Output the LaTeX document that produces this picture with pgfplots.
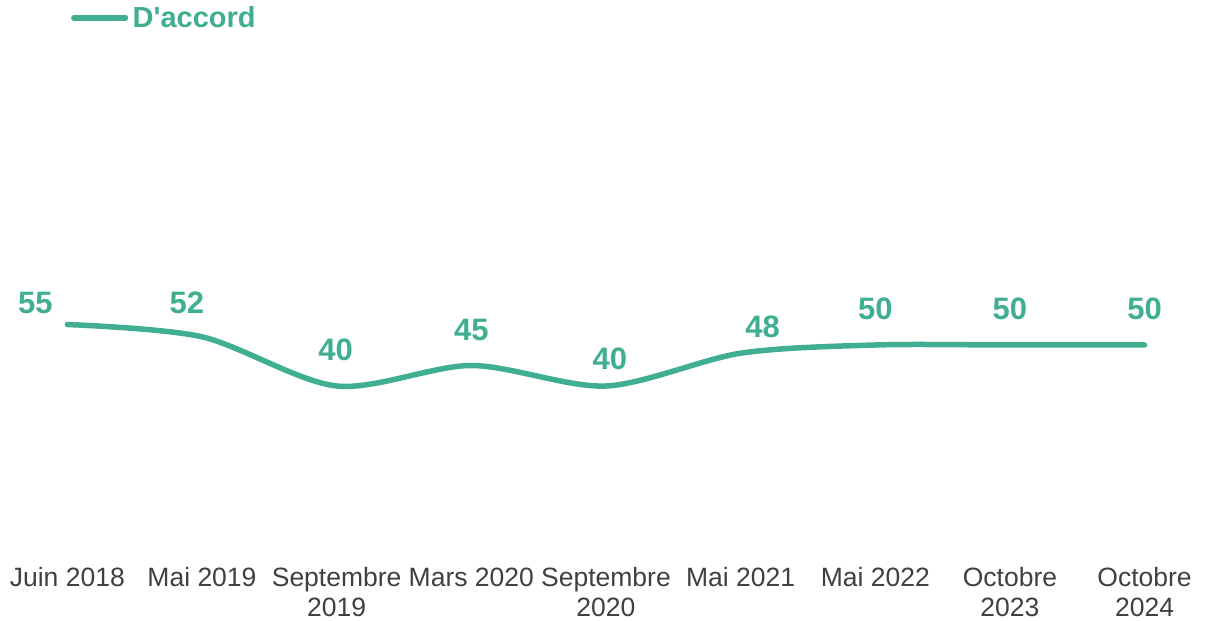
\documentclass[border=0pt]{standalone}
\usepackage{pgfplots}
\pgfplotsset{compat=1.18}
\usepackage{pgfplotstable}
\usepackage{fontspec}
\setmainfont{Liberation Sans}
\definecolor{teal1}{RGB}{64,174,145}
\definecolor{lab}{RGB}{64,64,64}
\pgfplotstableread{
x y dx dy
0 55 -32 21.5
1 52 -15 34
2 40 -1 36
3 45 0 35.5
4 40 4 27
5 48 22 26
6 50 0 36
7 50 0 36
8 50 0 36
}\datatable
\begin{document}
\begin{tikzpicture}
\path[use as bounding box] (0,0) rectangle (1221bp,621bp);
\begin{axis}[
  at={(0bp,71bp)}, anchor=south west,
  scale only axis, width=1212bp, height=410bp,
  xmin=-0.5, xmax=8.5, ymin=0, ymax=100,
  clip=false,
  hide y axis,
  axis x line*=bottom,
  x axis line style={draw=none},
  xtick={0,...,8},
  xticklabels={Juin 2018,Mai 2019,{Septembre\\2019},Mars 2020,{Septembre\\2020},Mai 2021,Mai 2022,{Octobre\\2023},{Octobre\\2024}},
  major tick length=0pt,
  xtick style={draw=none},
  xticklabel style={align=center, anchor=north, inner sep=0pt, yshift=-17.5bp,
    font=\fontsize{26.5bp}{30bp}\selectfont, text=lab},
  legend style={draw=none, fill=none, inner sep=0pt, outer sep=0pt,
    at={(axis description cs:0.0587,1.298)}, anchor=west,
    column sep=4.5bp,
    nodes={inner sep=0pt, font=\fontsize{29bp}{34bp}\selectfont\bfseries, text=teal1}},
  legend image code/.code={\draw[#1, line width=5.5bp, line cap=round] (0bp,0bp) -- (51.6bp,0bp);},
]
\addplot[teal1, line width=5.5bp, line cap=round, smooth,
  nodes near coords,
  visualization depends on={\thisrow{dx}\as\dx},
  visualization depends on={\thisrow{dy}\as\dy},
  nodes near coords style={anchor=center, inner sep=0pt, xshift=\dx bp, yshift=\dy bp,
    font=\fontsize{31bp}{36bp}\selectfont\bfseries, text=teal1,
    /pgf/number format/fixed, /pgf/number format/precision=0, /pgf/number format/assume math mode=true},
] table[x=x, y=y] {\datatable};
\addlegendentry{D\textquotesingle accord}
\end{axis}
\end{tikzpicture}
\end{document}
